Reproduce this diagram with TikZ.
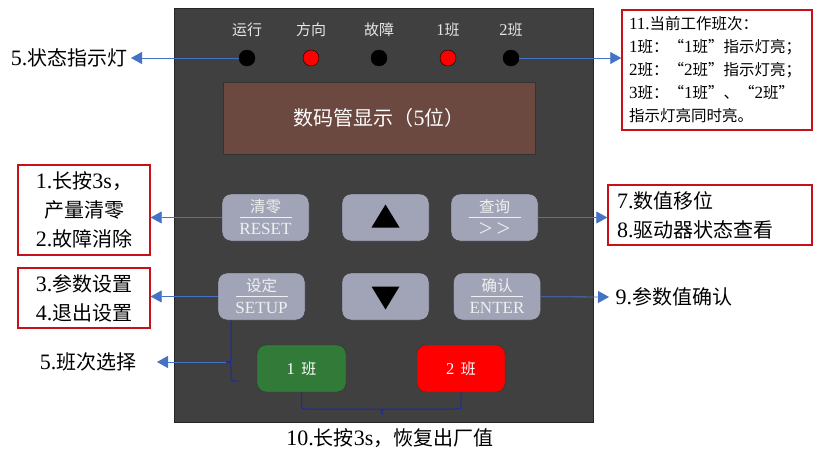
\documentclass[tikz,border=0pt]{standalone}
\usepackage{fontspec}
\setmainfont{Noto Sans CJK SC}
\newfontfamily\latf[Scale=1.1]{Liberation Serif}
\newcommand\ltn[1]{{\latf #1}}
\usetikzlibrary{arrows.meta}
\definecolor{panelc}{HTML}{404040}
\definecolor{dispc}{HTML}{6B4840}
\definecolor{btnc}{HTML}{A0A4B6}
\definecolor{greenc}{HTML}{317A38}
\definecolor{boxred}{HTML}{C8101A}
\definecolor{arrblue}{HTML}{4472C4}
\definecolor{braceblue}{HTML}{1A2AA0}
\definecolor{ledtxt}{HTML}{E6E6E6}
\tikzset{
 panel/.style={draw=black!85, fill=panelc, minimum width=419pt, minimum height=414pt, inner sep=0pt},
 led/.style={circle, draw=black, minimum size=16pt, inner sep=0pt},
 ledlab/.style={text=ledtxt, font=\fontsize{15}{18}\selectfont},
 keybtn/.style={draw=black!80, fill=btnc, rounded corners=9pt, minimum width=87pt, minimum height=47pt, inner sep=0pt},
 btxt/.style={text=white!94!black, font=\fontsize{15.5}{17}\selectfont, inner sep=0pt},
 banbtn/.style={draw=black!80, rounded corners=9pt, minimum width=89pt, minimum height=47pt, text=white, font=\fontsize{15}{18}\selectfont},
 redbox/.style={draw=boxred, line width=1.4pt},
 lbl/.style={font=\fontsize{20}{29}\selectfont, text=black},
 arr/.style={draw=arrblue, line width=0.8pt, -{Triangle[length=11pt,width=12pt]}},
 brace/.style={draw=braceblue, line width=1pt},
 sepline/.style={draw=white!94!black, line width=1.5pt},
}
\begin{document}
\begin{tikzpicture}[x=1pt,y=-1pt]
\useasboundingbox (0,0) rectangle (833,455);
% panel
\node[panel] (panel) at (383.5,215) {};
% LED labels
\node[ledlab] (t1) at (247,30) {运行};
\node[ledlab] (t2) at (311,30) {方向};
\node[ledlab] (t3) at (379,30) {故障};
\node[ledlab] (t4) at (448,30) {\ltn{1}班};
\node[ledlab] (t5) at (511,30) {\ltn{2}班};
% LEDs
\node[led, fill=black] (led1) at (247,58) {};
\node[led, fill=red] (led2) at (311,58) {};
\node[led, fill=black] (led3) at (379,58) {};
\node[led, fill=red] (led4) at (448,58) {};
\node[led, fill=black] (led5) at (511,58) {};
% display
\node[draw=black!80, fill=dispc, minimum width=312pt, minimum height=72pt, text=white, font=\fontsize{20}{24}\selectfont] (disp) at (379,118) {数码管显示（\ltn{5}位）};
% keys
\node[keybtn] (b1) at (265.5,217.5) {};
\node[keybtn] (bup) at (385.5,217.5) {};
\node[keybtn] (b3) at (494.5,217.5) {};
\node[keybtn] (b4) at (261.5,296.5) {};
\node[keybtn] (bdn) at (385.5,296.5) {};
\node[keybtn] (b6) at (497,296.5) {};
% key labels
\draw[sepline] ([xshift=-26pt]b1.center) -- ([xshift=26pt]b1.center);
\node[btxt] (b1t) at ([yshift=10.5pt]b1.center) {清零};
\node[btxt] (b1b) at ([yshift=-11pt]b1.center) {\ltn{RESET}};
\draw[sepline] ([xshift=-26pt]b3.center) -- ([xshift=26pt]b3.center);
\node[btxt] (b3t) at ([yshift=10.5pt]b3.center) {查询};
\node[btxt, font=\fontsize{22}{24}\selectfont] (b3b) at ([yshift=-12pt]b3.center) {\ltn{>\,>}};
\draw[sepline] ([xshift=-26pt]b4.center) -- ([xshift=26pt]b4.center);
\node[btxt] (b4t) at ([yshift=10.5pt]b4.center) {设定};
\node[btxt] (b4b) at ([yshift=-11pt]b4.center) {\ltn{SETUP}};
\draw[sepline] ([xshift=-26pt]b6.center) -- ([xshift=26pt]b6.center);
\node[btxt] (b6t) at ([yshift=10.5pt]b6.center) {确认};
\node[btxt] (b6b) at ([yshift=-11pt]b6.center) {\ltn{ENTER}};
% triangles
\fill[black, shift={(bup.center)}] (-14,10) -- (14,10) -- (0,-13) -- cycle;
\fill[black, shift={(bdn.center)}] (-14,-10) -- (14,-10) -- (0,13) -- cycle;
% shift buttons
\node[banbtn, fill=greenc] (ban1) at (301.5,368.5) {\ltn{1}\ \ 班};
\node[banbtn, fill=red, minimum width=88pt] (ban2) at (461,368.5) {\ltn{2}\ \ 班};
% braces
\coordinate (lbtop) at (231,320);
\coordinate (lb) at (226,362);
\draw[brace] (lbtop) -- (231,356) .. controls (231,362) .. (lb) .. controls (231,362) .. (231,368) -- (231,376) .. controls (231,381) .. (238,381);
\coordinate (bb) at (382,415);
\draw[brace] (ban1.south) -- (301.5,403) .. controls (301.5,409) .. (307,409) -- (377,409) .. controls (382,409) .. (bb) .. controls (382,409) .. (387,409) -- (455,409) .. controls (461,409) .. (461,403) -- (ban2.south);
% outside labels
\node[lbl, anchor=east] (lab5a) at (131,58) {\ltn{5.}状态指示灯};
\node[redbox, lbl, minimum width=132pt, minimum height=90pt, align=center, inner sep=0pt] (box1) at (84,210) {\ltn{1.}长按\ltn{3s}，\\产量清零\\\ltn{2.}故障消除};
\node[redbox, lbl, minimum width=132pt, minimum height=60pt, align=center, inner sep=0pt] (box2) at (84,298) {\ltn{3.}参数设置\\\ltn{4.}退出设置};
\node[lbl, anchor=east] (lab5b) at (140,362) {\ltn{5.}班次选择};
\node[redbox, lbl, minimum height=60pt, text width=186pt, inner xsep=9pt, align=left] (box78) at (710,215) {\ltn{7.}数值移位\\\ltn{8.}驱动器状态查看};
\node[lbl, anchor=west] (lab9) at (612,297) {\ltn{9.}参数值确认};
\node[redbox, font=\fontsize{15.5}{23}\selectfont, minimum height=120pt, text width=176pt, inner xsep=7pt, align=left] (box11) at (717,70) {\ltn{11.}当前工作班次：\\\ltn{1}班：“\ltn{1}班”指示灯亮；\\\ltn{2}班：“\ltn{2}班”指示灯亮；\\\ltn{3}班：“\ltn{1}班”、“\ltn{2}班”\\指示灯亮同时亮。};
\node[lbl] (lab10) at (390,438) {\ltn{10.}长按\ltn{3s}，恢复出厂值};
% arrows
\draw[arr] (led1) -- (lab5a.east);
\draw[arr] (led5) -- (led5 -| box11.west);
\draw[arr] (b1) -- (b1 -| box1.east);
\draw[arr] (b4) -- (b4 -| box2.east);
\draw[arr] (lb) -- ([xshift=17pt]lab5b.east);
\draw[arr] (b3) -- (b3 -| box78.west);
\draw[arr] (b6) -- ([xshift=-3pt]lab9.west);
\end{tikzpicture}
\end{document}
